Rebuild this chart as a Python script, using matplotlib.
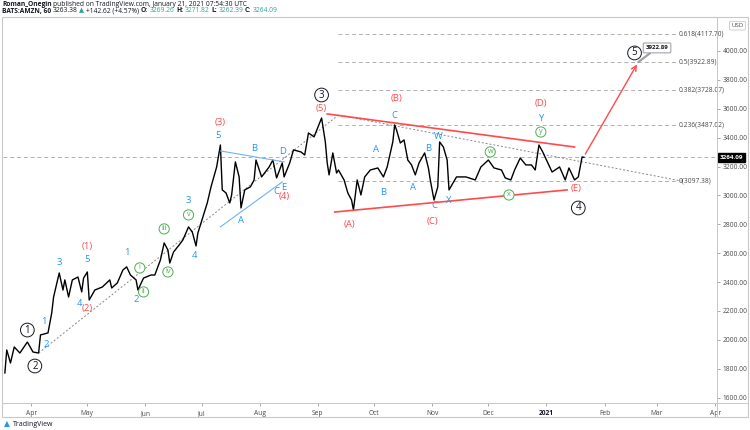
import matplotlib
matplotlib.use("Agg")
import matplotlib.pyplot as plt
import matplotlib.transforms as mtransforms
from matplotlib.patches import Rectangle
from matplotlib.lines import Line2D
import pandas as pd

plt.rcParams['font.family'] = ['Open Sans', 'DejaVu Sans']

# --- price path (hourly AMZN) ---
price_dates = [
    "2020-03-18", "2020-03-19", "2020-03-21", "2020-03-23", "2020-03-26", "2020-03-30", "2020-04-02", "2020-04-05",
    "2020-04-06", "2020-04-10", "2020-04-12", "2020-04-13", "2020-04-16", "2020-04-18", "2020-04-19", "2020-04-21",
    "2020-04-23", "2020-04-26", "2020-04-28", "2020-04-29",
    "2020-05-01", "2020-05-02", "2020-05-05", "2020-05-09", "2020-05-13", "2020-05-14", "2020-05-17", "2020-05-20",
    "2020-05-22", "2020-05-24", "2020-05-27", "2020-05-28", "2020-05-31",
    "2020-06-04", "2020-06-06", "2020-06-09", "2020-06-11", "2020-06-13", "2020-06-14", "2020-06-16", "2020-06-19",
    "2020-06-21", "2020-06-24", "2020-06-26", "2020-06-28", "2020-06-29", "2020-06-30",
    "2020-07-04", "2020-07-06", "2020-07-09", "2020-07-11", "2020-07-12", "2020-07-14", "2020-07-16", "2020-07-17",
    "2020-07-19", "2020-07-21", "2020-07-22", "2020-07-24", "2020-07-27", "2020-07-29", "2020-07-30",
    "2020-08-02", "2020-08-06", "2020-08-08", "2020-08-10", "2020-08-13", "2020-08-14", "2020-08-17", "2020-08-19",
    "2020-08-23", "2020-08-25", "2020-08-27", "2020-08-30",
    "2020-09-03", "2020-09-05", "2020-09-06", "2020-09-07", "2020-09-09", "2020-09-11", "2020-09-12", "2020-09-15",
    "2020-09-17", "2020-09-19", "2020-09-20", "2020-09-22", "2020-09-24", "2020-09-26", "2020-09-29",
    "2020-10-03", "2020-10-06", "2020-10-08", "2020-10-11", "2020-10-12", "2020-10-13", "2020-10-15", "2020-10-17",
    "2020-10-19", "2020-10-21", "2020-10-23", "2020-10-25", "2020-10-28", "2020-10-30", "2020-10-31",
    "2020-11-02", "2020-11-04", "2020-11-05", "2020-11-07", "2020-11-09", "2020-11-10", "2020-11-14", "2020-11-19",
    "2020-11-24", "2020-11-27",
    "2020-12-01", "2020-12-04", "2020-12-08", "2020-12-10", "2020-12-13", "2020-12-15", "2020-12-18", "2020-12-21",
    "2020-12-24", "2020-12-26", "2020-12-28", "2020-12-30",
    "2021-01-03", "2021-01-04", "2021-01-08", "2021-01-11", "2021-01-13", "2021-01-16", "2021-01-18", "2021-01-20",
    "2021-01-21",
]
price_values = [
    1771, 1930, 1840, 1951, 1909, 1985, 1916, 1909,
    2034, 2048, 2186, 2297, 2463, 2345, 2415, 2297, 2415, 2435, 2332, 2428,
    2470, 2276, 2345, 2366, 2415, 2359, 2394, 2484, 2505, 2449, 2415, 2345, 2428,
    2449, 2449, 2553, 2671, 2622, 2532, 2608, 2657, 2692, 2782, 2747, 2650, 2740, 2782,
    2948, 3059, 3197, 3349, 3038, 3017, 2948, 3003, 3232, 3128, 2913, 3038, 3059, 3107, 3245,
    3128, 3197, 3245, 3121, 3225, 3128, 3225, 3315, 3301, 3280, 3432, 3405,
    3536, 3370, 3225, 3142, 3294, 3155, 3176, 3107, 3017, 2968, 2899, 3107, 3003, 3128, 3176,
    3190, 3128, 3197, 3370, 3488, 3453, 3363, 3384, 3245, 3211, 3142, 3225, 3294, 3190, 3107,
    2968, 3059, 3370, 3335, 3245, 3038, 3128, 3128, 3107, 3197,
    3245, 3190, 3176, 3121, 3107, 3176, 3259, 3211, 3211, 3176, 3349, 3301,
    3190, 3162, 3197, 3107, 3190, 3107, 3128, 3266, 3264.09,
]
last_price = 3264.09

# --- fibonacci levels ---
fib_ratios = ["0.618", "0.5", "0.382", "0.236", "0"]
fib_prices = [4117.70, 3922.89, 3728.07, 3487.02, 3097.38]
fib_span = ["2020-09-12", "2021-03-11"]

# --- wave labels ---
blue_labels = [
    ("2020-04-08", 2124, "1"), ("2020-04-09", 1965, "2"), ("2020-04-16", 2539, "3"),
    ("2020-04-27", 2255, "4"), ("2020-05-01", 2553, "5"),
    ("2020-05-22", 2602, "1"), ("2020-05-27", 2276, "2"), ("2020-06-24", 2962, "3"),
    ("2020-06-27", 2581, "4"), ("2020-07-10", 3418, "5"),
    ("2020-07-22", 2823, "A"), ("2020-07-29", 3328, "B"), ("2020-08-10", 3024, "C"),
    ("2020-08-13", 3301, "D"), ("2020-08-14", 3058, "E"),
    ("2020-10-02", 3315, "A"), ("2020-10-06", 3017, "B"), ("2020-10-12", 3550, "C"),
    ("2020-10-22", 3052, "A"), ("2020-10-30", 3328, "B"), ("2020-11-02", 2927, "C"),
    ("2020-11-04", 3405, "W"), ("2020-11-10", 2962, "X"), ("2020-12-29", 3529, "Y"),
]
red_labels = [
    ("2020-05-01", 2643, "(1)"), ("2020-05-01", 2214, "(2)"), ("2020-07-11", 3502, "(3)"),
    ("2020-08-14", 2989, "(4)"), ("2020-09-03", 3605, "(5)"), ("2020-09-18", 2802, "(A)"),
    ("2020-10-13", 3668, "(B)"), ("2020-11-01", 2816, "(C)"), ("2020-12-29", 3633, "(D)"),
    ("2021-01-17", 3045, "(E)"),
]
green_labels = [
    ("2020-05-29", 2498, "i"), ("2020-05-31", 2332, "ii"), ("2020-06-11", 2768, "iii"),
    ("2020-06-13", 2470, "iv"), ("2020-06-24", 2865, "v"),
    ("2020-12-02", 3301, "w"), ("2020-12-12", 3003, "x"), ("2020-12-29", 3439, "y"),
]
black_labels = [
    ("2020-03-30", 2068, "1"), ("2020-04-03", 1819, "2"), ("2020-09-03", 3695, "3"),
    ("2021-01-18", 2913, "4"), ("2021-02-17", 3986, "5"),
]

# --- drawn lines ---
dotted_dates = ["2020-04-05", "2020-09-12", "2021-03-14"]
dotted_prices = [1909, 3557, 3100]
red_upper = (["2020-09-06", "2021-01-16"], [3564, 3335])
red_lower = (["2020-09-10", "2021-01-12"], [2885, 3038])
blue_upper = (["2020-07-11", "2020-08-14"], [3308, 3232])
blue_lower = (["2020-07-11", "2020-08-13"], [2782, 3093])
arrow_from = ("2021-01-21", 3270)
arrow_to = ("2021-02-19", 3922.89)
target_box = ("2021-03-01", 4021)

month_ticks = ["2020-04-01", "2020-05-01", "2020-06-01", "2020-07-01", "2020-08-01", "2020-09-01",
               "2020-10-01", "2020-11-01", "2020-12-01", "2021-01-01", "2021-02-01", "2021-03-01",
               "2021-04-01"]
month_labels = ["Apr", "May", "Jun", "Jul", "Aug", "Sep", "Oct", "Nov", "Dec", "2021", "Feb", "Mar", "Apr"]
price_ticks = list(range(1600, 4001, 200))

BLUE = "#2196f3"
RED = "#ff4a4a"
GREEN = "#4caf50"
DARK = "#131722"
GRID = "#b0b0b0"
AXIS_TXT = "#4a4a4a"

W, H = 750, 430
fig = plt.figure(figsize=(W / 100, H / 100), dpi=100)
ax = fig.add_axes([3 / W, (H - 403) / H, 714 / W, 386 / H])

T = pd.to_datetime

# price line
ax.plot(T(price_dates), price_values, color="black", lw=1.0, zorder=3)

# current price dashed line
ax.axhline(last_price, color=GRID, lw=0.7, ls=(0, (4, 3)), zorder=1)

# fib levels
for r, p in zip(fib_ratios, fib_prices):
    ax.plot(T(fib_span), [p, p], color=GRID, lw=0.7, ls=(0, (4, 3)), zorder=1)
    ax.text(T(fib_span[1]) + pd.Timedelta(days=1.5), p, f"{r}({p:.2f})", fontsize=4.8,
            color=AXIS_TXT, ha="left", va="center")

# dotted channel line
ax.plot(T(dotted_dates), dotted_prices, color="#888888", lw=0.7, ls=(0, (2, 2)), zorder=2)

# triangles
for d, p in (red_upper, red_lower):
    ax.plot(T(d), p, color=RED, lw=1.2, zorder=4)
for d, p in (blue_upper, blue_lower):
    ax.plot(T(d), p, color="#6fb3f0", lw=0.8, zorder=4)

# projection arrow
ax.annotate("", xy=(T(arrow_to[0]), arrow_to[1]), xytext=(T(arrow_from[0]), arrow_from[1]),
            arrowprops=dict(arrowstyle="->", color=RED, lw=1.0, mutation_scale=9), zorder=5)
ax.annotate("3922.89", xy=(T(arrow_to[0]), arrow_to[1]), xytext=(T(target_box[0]), target_box[1]),
            fontsize=4.4, weight="bold", color=DARK, ha="center", va="center",
            bbox=dict(boxstyle="round,pad=0.4,rounding_size=0.2", fc="white", ec="#999999", lw=0.7),
            arrowprops=dict(arrowstyle="-", color="#a0a0a0", lw=1.6, shrinkA=0, shrinkB=0), zorder=6)

# wave labels
for d, p, s in blue_labels:
    ax.text(T(d), p, s, color=BLUE, fontsize=6.8, ha="center", va="center", zorder=6)
for d, p, s in red_labels:
    ax.text(T(d), p, s, color=RED, fontsize=6.8, ha="center", va="center", zorder=6)
for d, p, s in green_labels:
    ax.text(T(d), p, s, color=GREEN, fontsize=5.2, ha="center", va="center", zorder=6,
            bbox=dict(boxstyle="circle,pad=0.22", fc="white", ec=GREEN, lw=0.7))
for d, p, s in black_labels:
    ax.text(T(d), p, s, color=DARK, fontsize=7, ha="center", va="center", zorder=6,
            bbox=dict(boxstyle="circle,pad=0.14", fc="white", ec=DARK, lw=0.7))

# axes styling
ax.set_xlim(T("2020-03-17"), T("2021-04-02"))
ax.set_ylim(1563, 4235)
ax.set_xticks(T(month_ticks))
ax.set_xticklabels(month_labels)
ax.yaxis.tick_right()
ax.set_yticks(price_ticks)
ax.set_yticklabels([f"{v:.2f}" for v in price_ticks])
ax.tick_params(axis="both", labelsize=4.8, colors="#9a9a9a", labelcolor=AXIS_TXT,
               length=2, width=0.6, pad=2)
ax.tick_params(axis="x", pad=3)
for lbl in ax.get_xticklabels():
    if lbl.get_text() == "2021":
        lbl.set_fontweight("bold")
        lbl.set_color(DARK)
for sp in ax.spines.values():
    sp.set_color("#c8c8c8")
    sp.set_linewidth(0.7)
ax.spines["top"].set_visible(False)
ax.spines["left"].set_visible(False)

# current price tag and currency box on the price scale
tr = mtransforms.blended_transform_factory(ax.transAxes, ax.transData)
ax.text(1.004, last_price, f"{last_price:.2f}", transform=tr, fontsize=4.5, color="white",
        weight="bold", ha="left", va="center", clip_on=False,
        bbox=dict(boxstyle="square,pad=0.3", fc="black", ec="black"))
ax.text(1.02, 4175, "USD", transform=tr, fontsize=4.4, color=AXIS_TXT, ha="left", va="center",
        clip_on=False, bbox=dict(boxstyle="round,pad=0.3,rounding_size=0.2", fc="white", ec="#c8c8c8", lw=0.6))

# outer frame and scale separators
fig.add_artist(Rectangle((2 / W, (H - 417) / H), 746 / W, 400 / H, transform=fig.transFigure,
                         fill=False, ec="#c8c8c8", lw=0.8))
fig.add_artist(Line2D([717 / W, 717 / W], [(H - 417) / H, (H - 17) / H], transform=fig.transFigure,
                      color="#c8c8c8", lw=0.7))
fig.add_artist(Line2D([2 / W, 748 / W], [(H - 403) / H, (H - 403) / H], transform=fig.transFigure,
                      color="#c8c8c8", lw=0.7))

# header
def header_line(y, pieces, size):
    s, c, w = pieces[0]
    prev = fig.text(2 / W, 1 - y / H, s, color=c, weight=w, fontsize=size, va="center", ha="left")
    for s, c, w in pieces[1:]:
        prev = ax.annotate(s, xy=(1, 0.5), xycoords=prev, xytext=(1.2, 0), textcoords="offset points",
                           color=c, weight=w, fontsize=size, va="center", ha="left", annotation_clip=False)

TEAL = "#26a69a"
header_line(4, [("Roman_Onegin", DARK, "bold"),
                ("published on TradingView.com, January 21, 2021 07:54:30 UTC", DARK, "normal")], 4.8)
header_line(11, [("BATS:AMZN, 60", DARK, "bold"), ("3263.38", DARK, "normal"), ("▲", TEAL, "normal"),
                 ("+142.62 (+4.57%)", DARK, "normal"), ("O:", DARK, "bold"), ("3269.26", TEAL, "normal"),
                 ("H:", DARK, "bold"), ("3271.82", TEAL, "normal"), ("L:", DARK, "bold"),
                 ("3262.39", TEAL, "normal"), ("C:", DARK, "bold"), ("3264.09", TEAL, "normal")], 4.8)

# footer logo
fig.text(4 / W, 1 - 425 / H, "▲", color=BLUE, fontsize=5.5, va="center", ha="left")
fig.text(13 / W, 1 - 425 / H, "TradingView", color=DARK, fontsize=5, va="center", ha="left")

fig.savefig("out.png", dpi=100)
